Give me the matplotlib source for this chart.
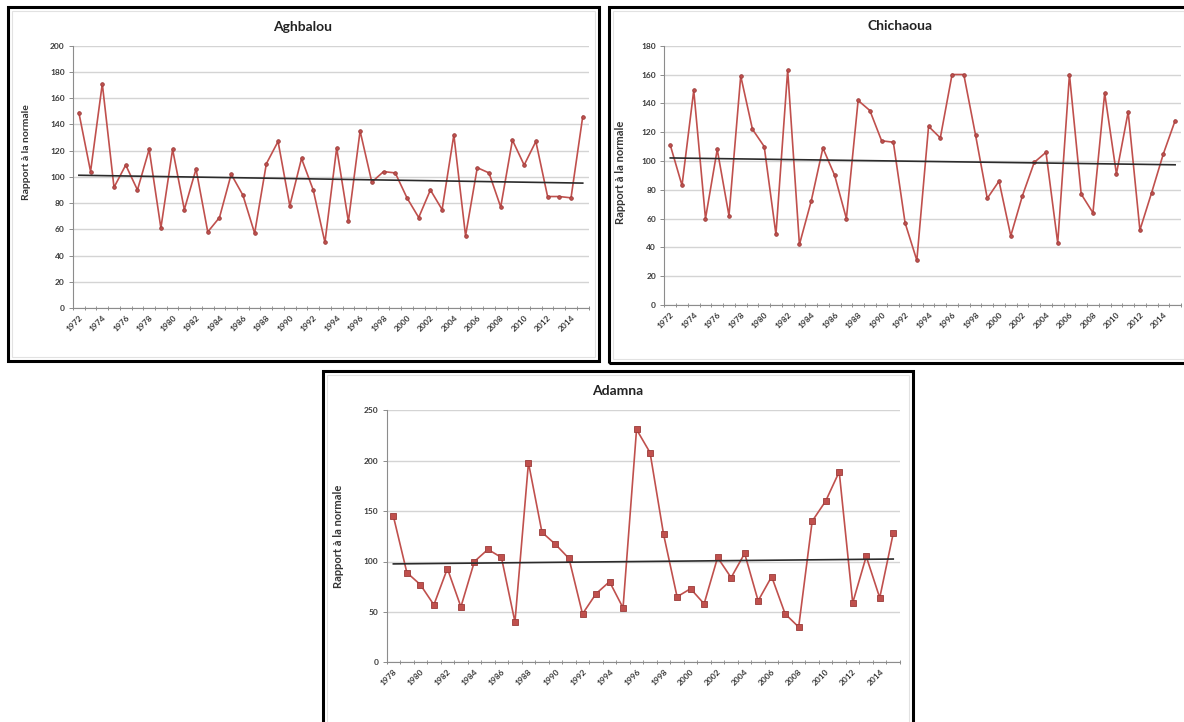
import numpy as np
import matplotlib
matplotlib.use('Agg')
import matplotlib.pyplot as plt
from matplotlib.patches import Rectangle

plt.rcParams['font.family'] = ['Lato', 'DejaVu Sans']

# Rapport a la normale, one value per year
years_agh = list(range(1972, 2016))
agh = [149, 104, 171, 92, 109, 90, 121, 61, 121, 75,
       106, 58, 69, 102, 86, 57, 110, 127, 78, 114,
       90, 50, 122, 66, 135, 96, 104, 103, 84, 69,
       90, 75, 132, 55, 107, 103, 77, 128, 109, 127,
       85, 85, 84, 146]

years_chi = list(range(1972, 2016))
chi = [111, 83, 149, 60, 108, 62, 159, 122, 110, 49,
       163, 42, 72, 109, 90, 60, 142, 135, 114, 113,
       57, 31, 124, 116, 160, 160, 118, 74, 86, 48,
       76, 99, 106, 43, 160, 77, 64, 147, 91, 134,
       52, 78, 105, 128]

years_ada = list(range(1978, 2016))
ada = [145, 89, 77, 57, 93, 55, 100, 112, 104, 40,
       198, 129, 117, 103, 48, 68, 80, 54, 231, 208,
       127, 65, 73, 58, 104, 84, 108, 61, 85, 48,
       35, 140, 160, 189, 59, 105, 64, 128]

W, H = 1184, 722
LINE = '#C0504D'
EDGE = '#9A3B39'
GRID = '#D4D4D4'
AXIS = '#8C8C8C'


def px_box(x0, y0, x1, y1):
    # pixel box (top-left origin) -> figure fraction rect
    return [x0 / W, 1 - y1 / H, (x1 - x0) / W, (y1 - y0) / H]


def draw_panel(fig, rect, years, vals, ymax, ystep, title, title_xy, ylab_xy,
               marker, msize, ylab_size):
    ax = fig.add_axes(rect)
    n = len(vals)
    x = np.arange(n)

    ax.plot(x, vals, color=LINE, lw=1.2, marker=marker, ms=msize,
            mfc=LINE, mec=EDGE, mew=0.6, zorder=3)

    # linear trend (Excel style)
    a, b = np.polyfit(x, vals, 1)
    ax.plot([x[0], x[-1]], [a * x[0] + b, a * x[-1] + b], color='#2B2B2B',
            lw=1.2, zorder=4)

    ax.set_xlim(-0.5, n - 0.5)
    ax.set_ylim(0, ymax)
    ax.set_yticks(np.arange(0, ymax + 1, ystep))
    ax.yaxis.grid(True, color=GRID, lw=1.0)
    ax.set_axisbelow(True)

    ax.set_xticks(x[::2])
    ax.set_xticklabels([str(y) for y in years[::2]], rotation=45,
                       ha='right', va='top', rotation_mode='anchor',
                       fontsize=6, fontweight='bold', color='#3A3A3A')
    ax.set_xticks(np.arange(-0.5, n, 1), minor=True)
    ax.tick_params(axis='x', which='major', length=0, pad=4)
    ax.tick_params(axis='x', which='minor', length=3, direction='inout',
                   color=AXIS, width=0.7)
    ax.tick_params(axis='y', length=3, color=AXIS, width=0.7,
                   labelsize=6, labelcolor='#3A3A3A', pad=3)
    for lab in ax.get_yticklabels():
        lab.set_fontweight('bold')

    for s in ['top', 'right']:
        ax.spines[s].set_visible(False)
    for s in ['left', 'bottom']:
        ax.spines[s].set_color(AXIS)
        ax.spines[s].set_linewidth(0.8)

    fig.text(title_xy[0] / W, 1 - title_xy[1] / H, title, ha='center',
             va='center', fontsize=10, fontweight='bold', color='#222222')
    fig.text(ylab_xy[0] / W, 1 - ylab_xy[1] / H, 'Rapport à la normale',
             ha='center', va='center', rotation=90, fontsize=ylab_size,
             fontweight='bold', color='#333333')
    return ax


fig = plt.figure(figsize=(W / 100, H / 100), dpi=100)

draw_panel(fig, px_box(73, 45.7, 588.6, 308), years_agh, agh, 200, 20,
           'Aghbalou', (303, 27), (27, 152), 'o', 2.6, 7.5)
draw_panel(fig, px_box(664.4, 45.7, 1181, 305), years_chi, chi, 180, 20,
           'Chichaoua', (900, 26), (621, 172), 'o', 2.6, 8)
draw_panel(fig, px_box(386.6, 410.3, 900, 662.3), years_ada, ada, 250, 50,
           'Adamna', (618, 391), (339, 536), 's', 4.5, 8)

# panel frames
for (x0, y0, x1, y1) in [(8, 7, 599, 361), (609, 7, 1188, 363),
                         (323, 371, 913, 728)]:
    fig.patches.append(Rectangle((x0 / W, 1 - y1 / H), (x1 - x0) / W,
                                 (y1 - y0) / H, transform=fig.transFigure,
                                 fill=False, ec='black', lw=2.2))
    fig.patches.append(Rectangle(((x0 + 4) / W, 1 - (y1 - 4) / H),
                                 (x1 - x0 - 8) / W, (y1 - y0 - 8) / H,
                                 transform=fig.transFigure, fill=False,
                                 ec='#E2E2E2', lw=0.8))

fig.savefig('out.png', dpi=100)
